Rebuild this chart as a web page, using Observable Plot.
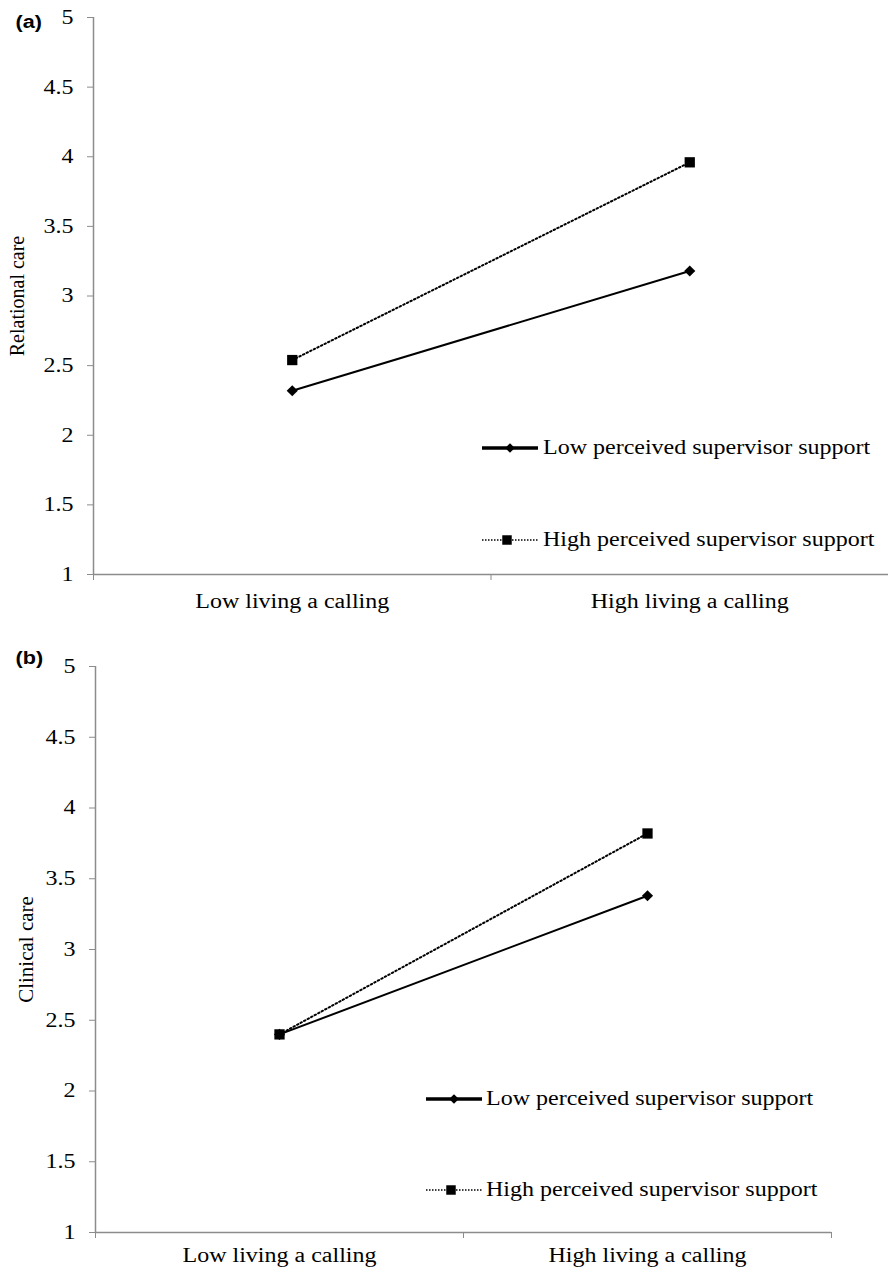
<!DOCTYPE html>
<html><head><meta charset="utf-8">
<script src="https://cdn.jsdelivr.net/npm/d3@7"></script>
<script src="https://cdn.jsdelivr.net/npm/@observablehq/plot@0.6"></script>
<style>
body{margin:0;background:#fff;}
#wrap{width:888px;}
#wrap svg{display:block;}
</style></head><body><div id="wrap"></div>
<script>
const categories = ["Low living a calling", "High living a calling"];
const seriesNames = ["Low perceived supervisor support", "High perceived supervisor support"];
const relationalLow = [2.32, 3.18];
const relationalHigh = [2.54, 3.96];
const clinicalLow = [2.40, 3.38];
const clinicalHigh = [2.40, 3.82];
const yTicks = [1, 1.5, 2, 2.5, 3, 3.5, 4, 4.5, 5];
const panelLetters = ["(a)", "(b)"];
const yTitles = ["Relational care", "Clinical care"];

const SERIF = "'Liberation Serif', 'Times New Roman', serif";
const SANS = "'Liberation Sans', Arial, sans-serif";
const GRAY = "#8c8c8c";
const STRETCH = 1.2;

function panel({letter, title, low, high, margins, catPad, titleX, titleSize, legend}) {
  const lowRows = categories.map((c, i) => ({x: i + 0.5, y: low[i]}));
  const highRows = categories.map((c, i) => ({x: i + 0.5, y: high[i]}));
  const plot = Plot.plot({
    width: 888, height: 636, ...margins,
    style: {fontFamily: SERIF, fontSize: "20px", color: "#000", background: "#fff", overflow: "visible"},
    x: {domain: [0, 2], axis: null},
    y: {domain: [1, 5], axis: null},
    marks: [
      Plot.ruleX([0], {stroke: GRAY, strokeWidth: 1.5}),
      Plot.ruleY([1], {stroke: GRAY, strokeWidth: 1.5}),
      Plot.axisY(yTicks, {tickSize: 6, tickPadding: 14, stroke: GRAY, fill: "#000", label: null, tickFormat: d => String(d), fontSize: 20, fontFamily: SERIF}),
      Plot.axisX([0, 1, 2], {tickSize: 6, stroke: GRAY, tickFormat: () => "", label: null}),
      Plot.axisX([0.5, 1.5], {tickSize: 0, tickPadding: catPad, tickFormat: d => categories[d - 0.5], label: null, fill: "#000", fontSize: 20, fontFamily: SERIF}),
      Plot.line(lowRows, {x: "x", y: "y", stroke: "#000", strokeWidth: 2}),
      Plot.line(highRows, {x: "x", y: "y", stroke: "#000", strokeWidth: 2, strokeDasharray: "1.5,2.5"}),
      Plot.dot(lowRows, {x: "x", y: "y", symbol: "diamond2", r: 5, fill: "#000", stroke: null}),
      Plot.dot(highRows, {x: "x", y: "y", symbol: "square", r: 5.8, fill: "#000", stroke: null}),
      Plot.text([title], {frameAnchor: "left", textAnchor: "middle", lineAnchor: "middle", rotate: -90, dx: titleX - margins.marginLeft, fill: "#000", fontSize: titleSize, fontFamily: SERIF, className: "ytitle"}),
      Plot.text([letter], {frameAnchor: "top-left", textAnchor: "start", lineAnchor: "middle", dx: 15 - margins.marginLeft, dy: 22 - margins.marginTop, fontFamily: SANS, fontWeight: "bold", fontSize: 18, fill: "#000"})
    ]
  });
  const svg = d3.select(plot);
  const g = svg.append("g").attr("font-family", SERIF).attr("font-size", 20).attr("text-anchor", "start");
  const L = legend;
  g.append("line").attr("x1", L.x1).attr("x2", L.x2).attr("y1", L.y1).attr("y2", L.y1).attr("stroke", "#000").attr("stroke-width", 3.5);
  g.append("path").attr("d", d3.symbol(d3.symbolDiamond2, 60)()).attr("transform", `translate(${(L.x1 + L.x2) / 2},${L.y1})`).attr("fill", "#000");
  g.append("text").attr("x", L.tx).attr("y", L.y1).attr("dy", "0.32em").attr("fill", "#000").text(seriesNames[0]);
  g.append("line").attr("x1", L.x1).attr("x2", L.x2).attr("y1", L.y2).attr("y2", L.y2).attr("stroke", "#000").attr("stroke-width", 1.5).attr("stroke-dasharray", "1.5,1.5");
  g.append("path").attr("d", d3.symbol(d3.symbolSquare, 90)()).attr("transform", `translate(${(L.x1 + L.x2) / 2 - 3},${L.y2})`).attr("fill", "#000");
  g.append("text").attr("x", L.tx).attr("y", L.y2).attr("dy", "0.32em").attr("fill", "#000").text(seriesNames[1]);
  return plot;
}

const wrap = document.getElementById("wrap");
wrap.append(panel({
  letter: panelLetters[0], title: yTitles[0], low: relationalLow, high: relationalHigh,
  margins: {marginLeft: 93, marginRight: 0, marginTop: 17, marginBottom: 62},
  catPad: 19, titleX: 17, titleSize: 20,
  legend: {x1: 482, x2: 538, tx: 543, y1: 448, y2: 540}
}));
wrap.append(panel({
  letter: panelLetters[1], title: yTitles[1], low: clinicalLow, high: clinicalHigh,
  margins: {marginLeft: 95, marginRight: 57, marginTop: 30, marginBottom: 40},
  catPad: 15, titleX: 26, titleSize: 21,
  legend: {x1: 426, x2: 482, tx: 486, y1: 463, y2: 554}
}));

// the reference's lettering is horizontally wider than the font; stretch horizontal text
wrap.querySelectorAll("text").forEach(t => {
  if (t.closest(".ytitle")) return;
  const w = t.getComputedTextLength();
  if (w > 0) {
    t.setAttribute("textLength", (w * STRETCH).toFixed(1));
    t.setAttribute("lengthAdjust", "spacingAndGlyphs");
  }
});
</script>
</body></html>
